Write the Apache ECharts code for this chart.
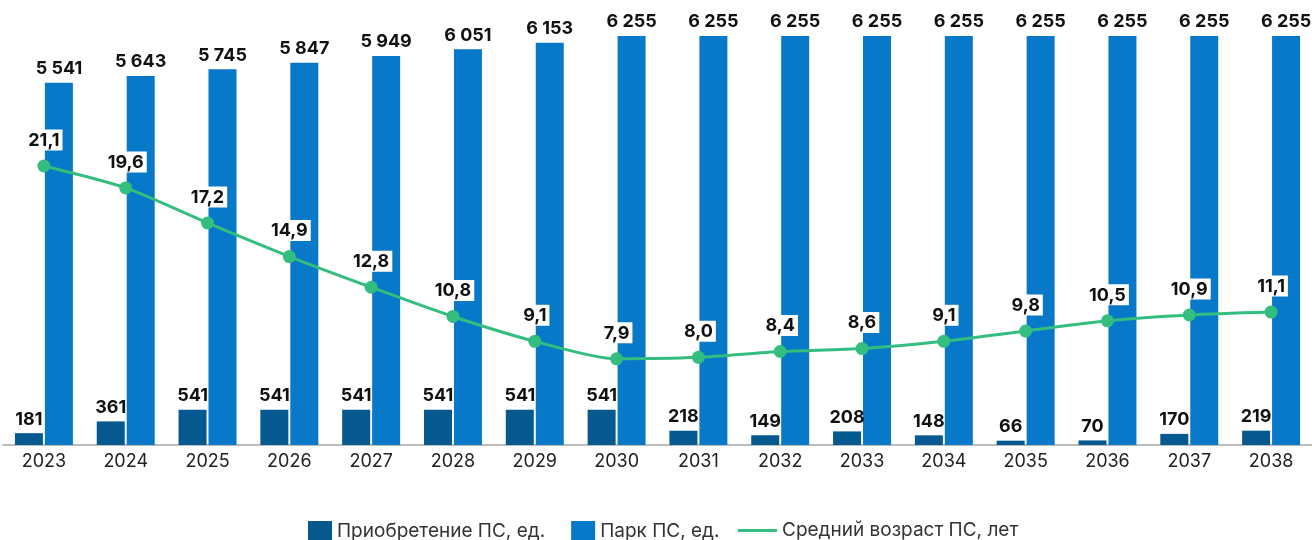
<!DOCTYPE html>
<html><head><meta charset="utf-8">
<script src="https://cdn.jsdelivr.net/npm/echarts@6/dist/echarts.min.js"></script>
<style>html,body{margin:0;padding:0;background:#fff}#c{width:1312px;height:540px}</style>
</head><body><div id="c"></div>
<script>
const years = ['2023','2024','2025','2026','2027','2028','2029','2030','2031','2032','2033','2034','2035','2036','2037','2038'];
const purchases = [181,361,541,541,541,541,541,541,218,149,208,148,66,70,170,219];
const fleet = [5541,5643,5745,5847,5949,6051,6153,6255,6255,6255,6255,6255,6255,6255,6255,6255];
const avgAge = [21.1,19.6,17.2,14.9,12.8,10.8,9.1,7.9,8.0,8.4,8.6,9.1,9.8,10.5,10.9,11.1];
const seriesNames = ['Приобретение ПС, ед.','Парк ПС, ед.','Средний возраст ПС, лет'];

const FONT = 'Inter';
const fmtInt = v => String(v).replace(/\B(?=(\d{3})+(?!\d))/g, ' ');
const fmtDec = v => v.toFixed(1).replace('.', ',');
const legendText = {fontFamily:FONT,fontSize:19,color:'#333'};

const chart = echarts.init(document.getElementById('c'), null, {renderer:'canvas'});
chart.setOption({
  animation:false,
  textStyle:{fontFamily:FONT},
  grid:{left:3,right:0,top:36,bottom:95,containLabel:false},
  legend:[
    {
      top:521,left:308,itemGap:26,itemWidth:24,itemHeight:20,padding:0,
      textStyle:legendText,
      data:[{name:seriesNames[0],icon:'rect'},{name:seriesNames[1],icon:'rect'}]
    },
    {
      top:521,left:738,itemWidth:39,itemHeight:20,padding:0,
      textStyle:legendText,
      data:[{name:seriesNames[2],icon:'path://M0,0H39V3H0Z'}]
    }
  ],
  xAxis:{
    type:'category',data:years,
    axisLine:{lineStyle:{color:'#a6a6a6',width:1.5}},
    axisTick:{show:false},
    axisLabel:{fontFamily:FONT,fontSize:18,color:'#222',margin:8}
  },
  yAxis:[
    {type:'value',min:0,max:6255,show:false,splitLine:{show:false}},
    {type:'value',min:2,max:30,show:false,splitLine:{show:false}}
  ],
  series:[
    {
      name:seriesNames[0],type:'bar',data:purchases,barWidth:28,barGap:'7%',
      itemStyle:{color:'#06598f'},
      label:{show:true,position:'top',distance:5,fontFamily:FONT,fontWeight:'bold',fontSize:18,color:'#111',formatter:p=>fmtInt(p.value)}
    },
    {
      name:seriesNames[1],type:'bar',data:fleet,barWidth:28,barGap:'7%',
      itemStyle:{color:'#0878c8'},
      label:{show:true,position:'top',distance:5,fontFamily:FONT,fontWeight:'bold',fontSize:18,color:'#111',formatter:p=>fmtInt(p.value)}
    },
    {
      name:seriesNames[2],type:'line',yAxisIndex:1,data:avgAge,smooth:0.25,
      symbol:'circle',symbolSize:13,z:5,
      lineStyle:{color:'#33bd7f',width:3},
      itemStyle:{color:'#33bd7f'},
      label:{show:true,position:'top',distance:9,fontFamily:FONT,fontWeight:'bold',fontSize:18,color:'#111',
        backgroundColor:'#fff',padding:[2,3,1,3],formatter:p=>fmtDec(p.value)}
    }
  ]
});
</script></body></html>
